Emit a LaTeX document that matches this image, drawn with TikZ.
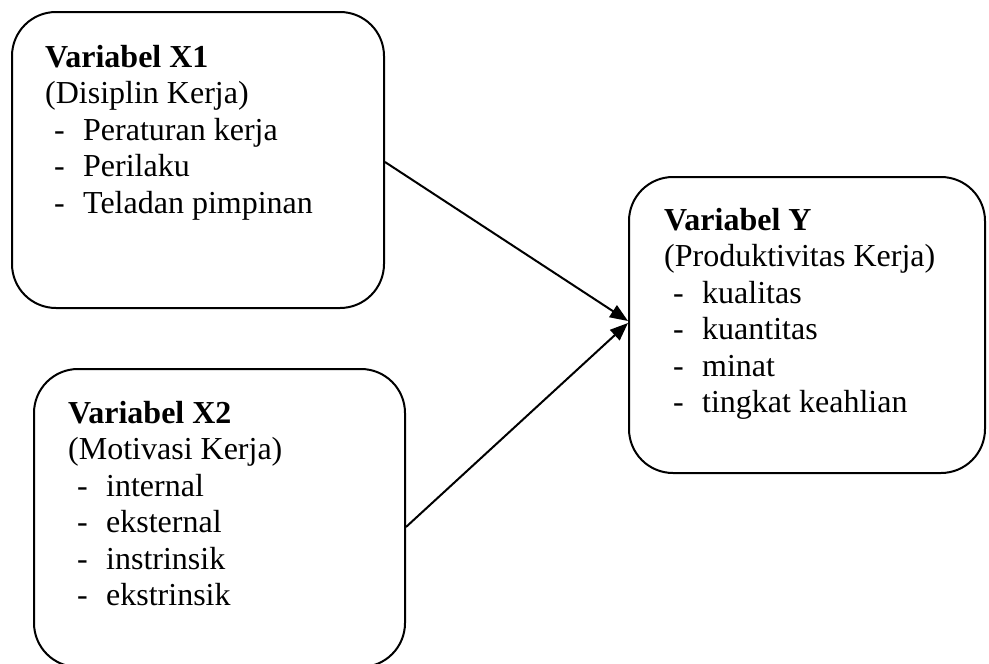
\documentclass[tikz,border=0pt]{standalone}
\usepackage{fontspec}
\setmainfont{Liberation Serif}
\usetikzlibrary{arrows.meta}
\newcommand{\itm}[1]{\makebox[38pt][l]{\hspace*{9pt}-}#1}
\begin{document}
\begin{tikzpicture}[x=1pt,y=-1pt,
  box/.style={draw, line width=2pt, rounded corners=44pt, inner sep=0pt},
  txt/.style={anchor=north west, inner sep=0pt, align=left,
    font=\fontsize{32}{36.4}\selectfont},
  arr/.style={line width=2pt, -{Triangle[length=18pt,width=14pt]}}]
\useasboundingbox (0,0) rectangle (989,664);
\begin{scope}
\clip (0,0) rectangle (989,664);
\node[box, minimum width=372pt, minimum height=296pt] (x1) at (198,160) {};
\node[box, minimum width=371pt, minimum height=298pt] (x2) at (219.5,518) {};
\node[box, minimum width=356pt, minimum height=296pt] (y) at (807,325) {};
\end{scope}
\node[txt] (t1) at (45,45) {\textbf{Variabel X1}\\(Disiplin Kerja)\\\itm{Peraturan kerja}\\\itm{Perilaku}\\\itm{Teladan pimpinan}};
\node[txt] (t2) at (68,401) {\textbf{Variabel X2}\\(Motivasi Kerja)\\\itm{internal}\\\itm{eksternal}\\\itm{instrinsik}\\\itm{ekstrinsik}};
\node[txt] (t3) at (664,208) {\textbf{Variabel Y}\\(Produktivitas Kerja)\\\itm{kualitas}\\\itm{kuantitas}\\\itm{minat}\\\itm{tingkat keahlian}};
\draw[arr] ([yshift=-2pt]x1.east) -- ([yshift=4pt]y.west);
\draw[arr] ([yshift=-9pt]x2.east) -- ([yshift=2pt]y.west);
\end{tikzpicture}
\end{document}
